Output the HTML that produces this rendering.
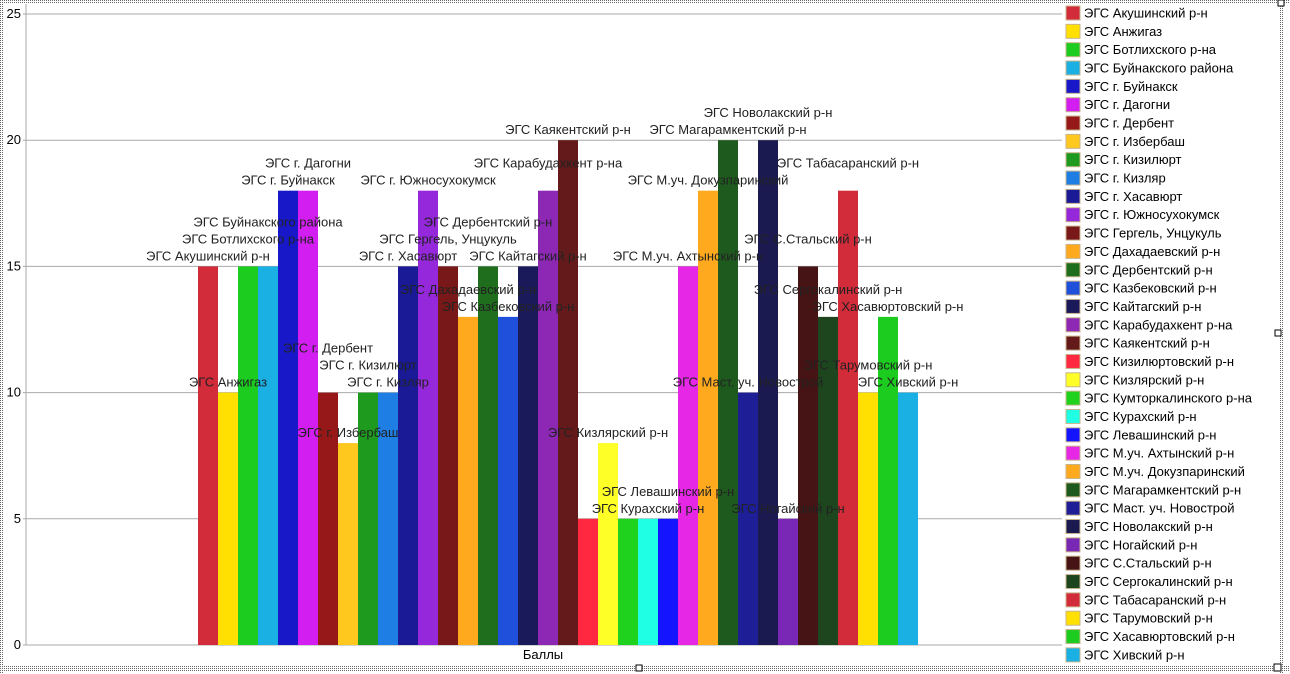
<!DOCTYPE html>
<html><head><meta charset="utf-8"><style>
body{margin:0;background:#fff;width:1290px;height:674px;overflow:hidden}
svg{display:block;font-family:"Liberation Sans","DejaVu Sans",sans-serif}
</style></head><body>
<svg id="c" width="1290" height="674">
<defs><pattern id="dots" width="2" height="2" patternUnits="userSpaceOnUse"><rect width="1" height="1" fill="#666"/></pattern></defs>
<rect x="0" y="0" width="1290" height="3" fill="url(#dots)"/>
<rect x="0" y="665" width="1290" height="6" fill="url(#dots)"/>
<rect x="0" y="0" width="3" height="674" fill="url(#dots)"/>
<rect x="1279" y="0" width="4" height="674" fill="url(#dots)"/>
<rect x="1274" y="664" width="7" height="7" fill="#fff" stroke="#000"/>
<rect x="1275" y="330" width="6" height="6" fill="#fff" stroke="#000"/>
<rect x="636" y="665" width="6" height="6" fill="#fff" stroke="#000"/>
<rect x="1278" y="0" width="6" height="6" fill="#fff" stroke="#000"/>
<g id="grid"></g><g id="bars"></g><g id="labels"></g><g id="legend"></g>
</svg>
<script>
const categories=["ЭГС Акушинский р-н","ЭГС Анжигаз","ЭГС Ботлихского р-на","ЭГС Буйнакского района","ЭГС г. Буйнакск","ЭГС г. Дагогни","ЭГС г. Дербент","ЭГС г. Избербаш","ЭГС г. Кизилюрт","ЭГС г. Кизляр","ЭГС г. Хасавюрт","ЭГС г. Южносухокумск","ЭГС Гергель, Унцукуль","ЭГС Дахадаевский р-н","ЭГС Дербентский р-н","ЭГС Казбековский р-н","ЭГС Кайтагский р-н","ЭГС Карабудахкент р-на","ЭГС Каякентский р-н","ЭГС Кизилюртовский р-н","ЭГС Кизлярский р-н","ЭГС Кумторкалинского р-на","ЭГС Курахский р-н","ЭГС Левашинский р-н","ЭГС М.уч. Ахтынский р-н","ЭГС М.уч. Докузпаринский","ЭГС Магарамкентский р-н","ЭГС Маст. уч. Новострой","ЭГС Новолакский р-н","ЭГС Ногайский р-н","ЭГС С.Стальский р-н","ЭГС Сергокалинский р-н","ЭГС Табасаранский р-н","ЭГС Тарумовский р-н","ЭГС Хасавюртовский р-н","ЭГС Хивский р-н"];
const values=[15,10,15,15,18,18,10,8,10,10,15,18,15,13,15,13,15,18,20,5,8,5,5,5,15,18,20,10,20,5,15,13,18,10,13,10];
const colors=["#d22b3a","#ffe000","#1ccc1f","#1ab0e4","#1818c8","#d21ef0","#961818","#ffc81e","#1e9a1e","#1e7ee4","#1a1a96","#9628dc","#781818","#ffaa1e","#1e6e1e","#1e50dc","#1a1a5a","#8c28b4","#641a1a","#ff2840","#ffff28","#1ed21e","#1effe4","#1414ff","#e628e6","#ffaa1e","#1e5a1e","#1e1e96","#1a1a50","#7828b4","#461414","#1e461e","#d22b3a","#ffe000","#1ccc1f","#1ab0e4"];
const labelLevels=[0,0,1,2,0,1,2,0,1,0,0,0,1,1,2,0,0,1,0,-1,0,-1,0,1,0,0,0,0,1,0,1,1,1,1,0,0];
const yTicks=[0,5,10,15,20,25];
const NS="http://www.w3.org/2000/svg";
const X0=26,X1=1062,Y0=645,Y25=14,BX=198,BW=20;
const y=v=>Y0-(Y0-Y25)*v/25;
const x=i=>BX+i*BW;
function mk(t,a,p){const e=document.createElementNS(NS,t);for(const k in a)e.setAttribute(k,a[k]);p.appendChild(e);return e;}
const g=document.getElementById('grid');
yTicks.forEach(t=>{
 const l=mk('line',{x1:X0-3,x2:X1,y1:y(t),y2:y(t),stroke:'#aaa'},g);
 
 
 const tx=mk('text',{x:21,y:y(t)+4,'font-size':13,'text-anchor':'end',fill:'#000'},g);
 tx.textContent=t;
 
 
});
const ax=mk('line',{x1:X0,x2:X0,y1:4,y2:Y0,stroke:'#aaa'},g);


const xt=mk('text',{x:543,y:659,'font-size':13,'text-anchor':'middle',fill:'#000'},g);
xt.textContent='Баллы';


const bg=document.getElementById('bars'),lg=document.getElementById('labels'),leg=document.getElementById('legend');
values.forEach((v,i)=>{
 const r=mk('rect',{x:x(i),y:y(v),width:BW,height:Y0-y(v),fill:colors[i]},bg);
 
 
 if(labelLevels[i]>=0){
  const t=mk('text',{x:x(i)+BW/2,y:y(v)-6-labelLevels[i]*17,'font-size':13,'text-anchor':'middle',fill:'#222'},lg);
  t.textContent=categories[i];
  
  
 }
 const cy=13+i*18.34;
 const s=mk('rect',{x:1066,y:cy-7,width:14,height:14,fill:colors[i],stroke:'#c8b48c'},leg);
 
 
 const lt=mk('text',{x:1084,y:cy+4.5,'font-size':13,fill:'#000'},leg);
 lt.textContent=categories[i];
 
 
});
</script>
</body></html>
